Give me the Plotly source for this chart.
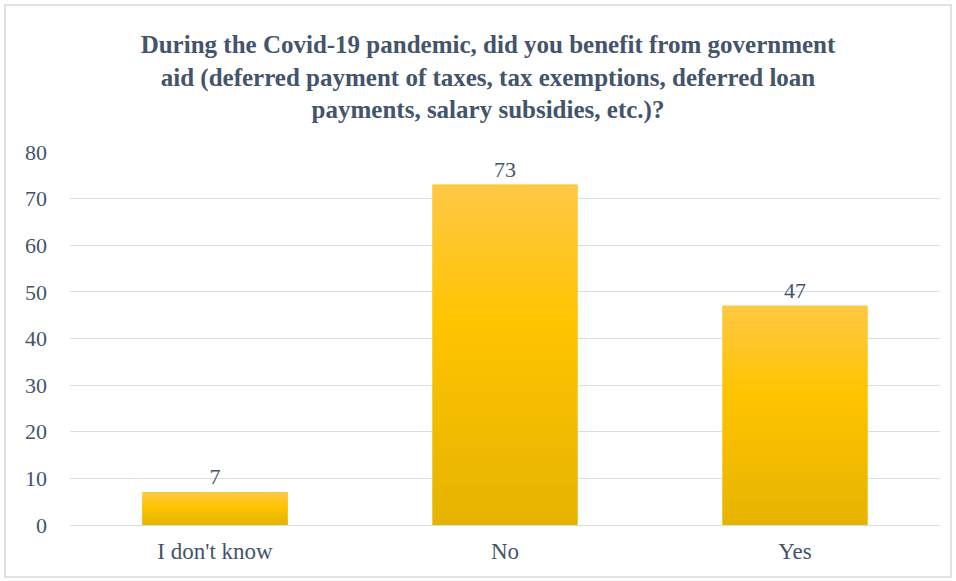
import plotly.graph_objects as go

categories = ["I don't know", "No", "Yes"]
values = [7, 73, 47]
y_ticks = [0, 10, 20, 30, 40, 50, 60, 70, 80]

title = ("During the Covid-19 pandemic, did you benefit from government<br>"
         "aid (deferred payment of taxes, tax exemptions, deferred loan<br>"
         "payments, salary subsidies, etc.)?")

TEXT = "#44546A"
FONT = "Liberation Serif, Times New Roman, serif"


def lerp(c1, c2, t):
    return tuple(c1[i] + (c2[i] - c1[i]) * t for i in range(3))


top_c = (255, 200, 70)
mid_c = (255, 196, 0)
bot_c = (229, 179, 0)


def grad(t):  # t = 0 bottom, 1 top
    if t < 0.6:
        c = lerp(bot_c, mid_c, t / 0.6)
    else:
        c = lerp(mid_c, top_c, (t - 0.6) / 0.4)
    return "rgb(%d,%d,%d)" % tuple(round(v) for v in c)


fig = go.Figure()

# full bars with labels
fig.add_trace(go.Bar(
    x=categories, y=values, width=0.5,
    marker=dict(color=grad(0.5), line=dict(width=0)),
    text=[str(v) for v in values], textposition="outside",
    textfont=dict(family=FONT, size=22, color=TEXT),
    cliponaxis=False, showlegend=False, hoverinfo="x+y",
))

# gradient overlay slices
N = 40
for i in range(N):
    fig.add_trace(go.Bar(
        x=categories,
        y=[v / N * 1.02 for v in values],
        base=[v * i / N for v in values],
        width=0.5,
        marker=dict(color=grad((i + 0.5) / N), line=dict(width=0)),
        showlegend=False, hoverinfo="skip",
    ))

L, R, T, B = 70, 16, 152, 56
W, H = 956, 581
pw, ph = W - L - R, H - T - B

fig.update_layout(
    width=W, height=H,
    margin=dict(l=L, r=R, t=T, b=B),
    barmode="overlay",
    paper_bgcolor="white", plot_bgcolor="white",
    title=dict(text=title, x=488 / W, xanchor="center", y=1 - 53 / H, yanchor="top",
               font=dict(family=FONT, size=25, color=TEXT, weight="bold")),
    xaxis=dict(showgrid=False, showline=False, ticks="",
               tickfont=dict(family=FONT, size=23, color=TEXT),
               ticklabelstandoff=10),
    yaxis=dict(range=[0, 80], tickvals=y_ticks, showgrid=True, gridcolor="#D9DEE5",
               gridwidth=1.3, zeroline=True, zerolinecolor="#D9DEE5", zerolinewidth=1.3,
               showline=False, ticks="",
               tickfont=dict(family=FONT, size=22, color=TEXT),
               ticklabelstandoff=22),
    shapes=[dict(type="rect", xref="paper", yref="paper",
                 x0=(5 - L) / pw, x1=(951 - L) / pw,
                 y0=(T + ph - 577) / ph, y1=(T + ph - 5) / ph,
                 line=dict(color="#D9D9D9", width=1.5), fillcolor="rgba(0,0,0,0)",
                 layer="below")],
)

fig.write_html("out.html")
